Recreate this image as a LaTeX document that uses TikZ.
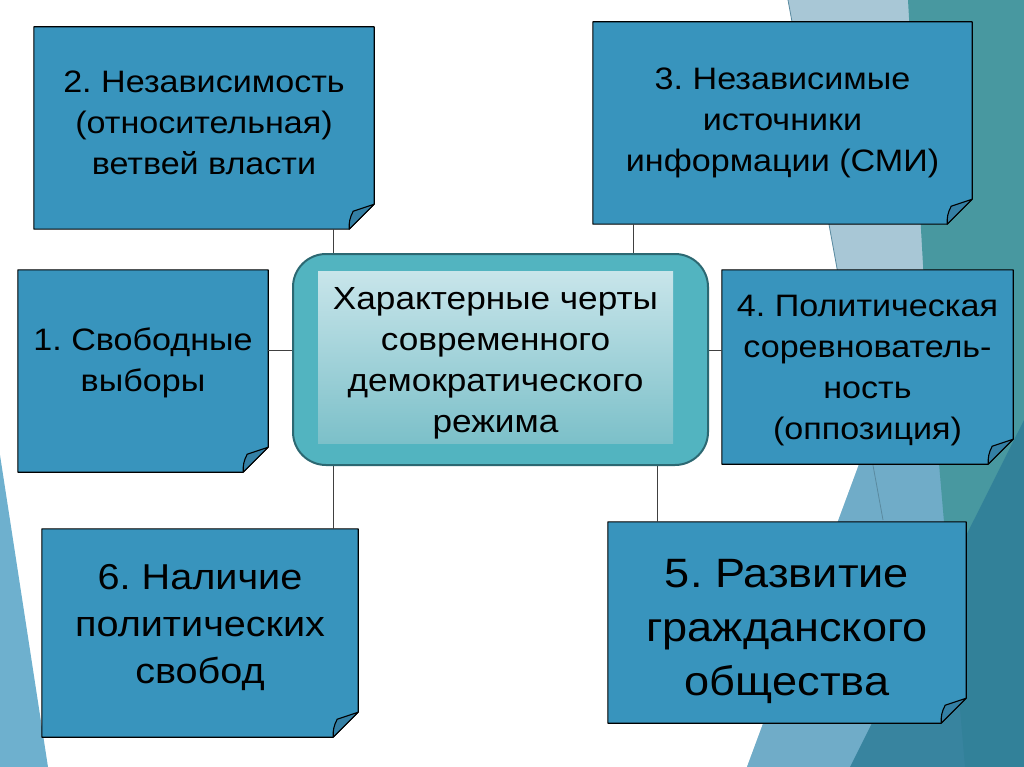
\documentclass[tikz,border=0pt]{standalone}
\usepackage{fontspec}
\setmainfont{Liberation Sans}[FakeStretch=1.1]
\frenchspacing
\pgfdeclarelayer{deco}
\pgfdeclarelayer{background}
\pgfsetlayers{deco,background,main}
\definecolor{cardblue}{RGB}{56,148,189}
\definecolor{flapblue}{RGB}{52,128,165}
\definecolor{hubteal}{RGB}{82,180,192}
\definecolor{hubline}{RGB}{44,104,114}
\definecolor{hubtop}{RGB}{200,229,234}
\definecolor{hubbottom}{RGB}{124,192,201}
\definecolor{facetgray}{RGB}{168,199,214}
\definecolor{facetblue}{RGB}{112,172,200}
\definecolor{facetteal}{RGB}{72,152,160}
\definecolor{facetdark}{RGB}{47,125,152}
\definecolor{facetleft}{RGB}{110,176,206}
\tikzset{
  card/.style 2 args={minimum width=#1, minimum height=#2, inner sep=0pt},
  cardtext/.style={align=center, inner sep=0pt, font=\fontsize{31}{41}\selectfont},
  cardline/.style={draw=black, line width=1.1pt, fill=cardblue, line join=round},
  flap/.style={draw=black, line width=1.1pt, fill=flapblue, line join=round},
  link/.style={draw=black!75, line width=1pt},
}
\begin{document}
\begin{tikzpicture}[x=1pt,y=-1pt]
\useasboundingbox (0,0) rectangle (1024,767);
% background facets
\begin{pgfonlayer}{deco}
  \fill[white] (0,0) rectangle (1024,767);
  \fill[facetleft] (0,455) -- (48,767) -- (0,767) -- cycle;
  \fill[facetgray] (788,0) -- (1024,0) -- (1024,767) -- (747,767) -- (868,440) -- cycle;
  \fill[facetblue] (868,440) -- (1024,330) -- (1024,767) -- (747,767) -- cycle;
  \fill[facetteal] (908,0) -- (1024,0) -- (1024,767) -- (965,767) -- (925,300) -- cycle;
  \fill[facetdark,opacity=.85] (1024,420) -- (1024,767) -- (850,767) -- cycle;
  \draw[facetblue!80!black,line width=.8pt] (788,0) -- (883,520);
\end{pgfonlayer}
% centre
\node[draw=hubline, line width=2pt, fill=hubteal, rounded corners=33pt,
      minimum width=415, minimum height=211] (hub) at (500.5,359.5) {};
\node[top color=hubtop, bottom color=hubbottom, minimum width=355, minimum height=172] (inner) at (495.5,357) {};
\node[cardtext, font=\fontsize{32}{41}\selectfont] at ([yshift=-6pt]inner.center)
      {Характерные черты\\современного\\демократического\\режима};
% cards
\node[card={250}{202}] (free) at (143,371) {};
\node[card={340}{202}] (indep) at (204,128) {};
\node[card={379}{202}] (media) at (782.5,123) {};
\node[card={291}{194}] (oppos) at (867.5,367) {};
\node[card={358}{201}] (civil) at (787,622.5) {};
\node[card={316}{208}] (rights) at (200,633) {};
\node[cardtext] at ([yshift=8pt]free.center) {1. Свободные\\выборы};
\node[cardtext] at ([yshift=5pt]indep.center) {2. Независимость\\(относительная)\\ветвей власти};
\node[cardtext] at (media.center) {3. Независимые\\источники\\информации (СМИ)};
\node[cardtext] at ([yshift=-4pt]oppos.center) {4. Политическая\\соревнователь-\\ность\\(оппозиция)};
\node[cardtext, font=\fontsize{41}{54}\selectfont] at ([yshift=-9pt]civil.center) {5. Развитие\\гражданского\\общества};
\node[cardtext, font=\fontsize{36}{47}\selectfont] at ([yshift=5pt]rights.center) {6. Наличие\\политических\\свобод};
\begin{pgfonlayer}{background}
  \foreach \n in {free,indep,media,oppos,civil,rights}{
    \path[cardline] (\n.north west) -- (\n.north east) -- ([yshift=25pt]\n.south east)
      -- ([xshift=-25pt]\n.south east) -- (\n.south west) -- cycle;
    \path[flap] ([yshift=25pt]\n.south east) -- ([xshift=-25pt]\n.south east)
      to[bend left=15] ([xshift=-21pt,yshift=18pt]\n.south east) -- cycle;
  }
  % connectors
  \draw[link] ([xshift=129pt]indep.south) -- ([xshift=129pt]indep.south |- hub.north);
  \draw[link] ([xshift=-149.5pt]media.south) -- ([xshift=-149.5pt]media.south |- hub.north);
  \draw[link] ([yshift=21pt]free.east) -- ([yshift=21pt]free.east -| hub.west);
  \draw[link] ([yshift=17pt]oppos.west) -- ([yshift=17pt]oppos.west -| hub.east);
  \draw[link] ([xshift=133pt]rights.north) -- ([xshift=133pt]rights.north |- hub.south);
  \draw[link] ([xshift=-130pt]civil.north) -- ([xshift=-130pt]civil.north |- hub.south);
\end{pgfonlayer}
\end{tikzpicture}
\end{document}
